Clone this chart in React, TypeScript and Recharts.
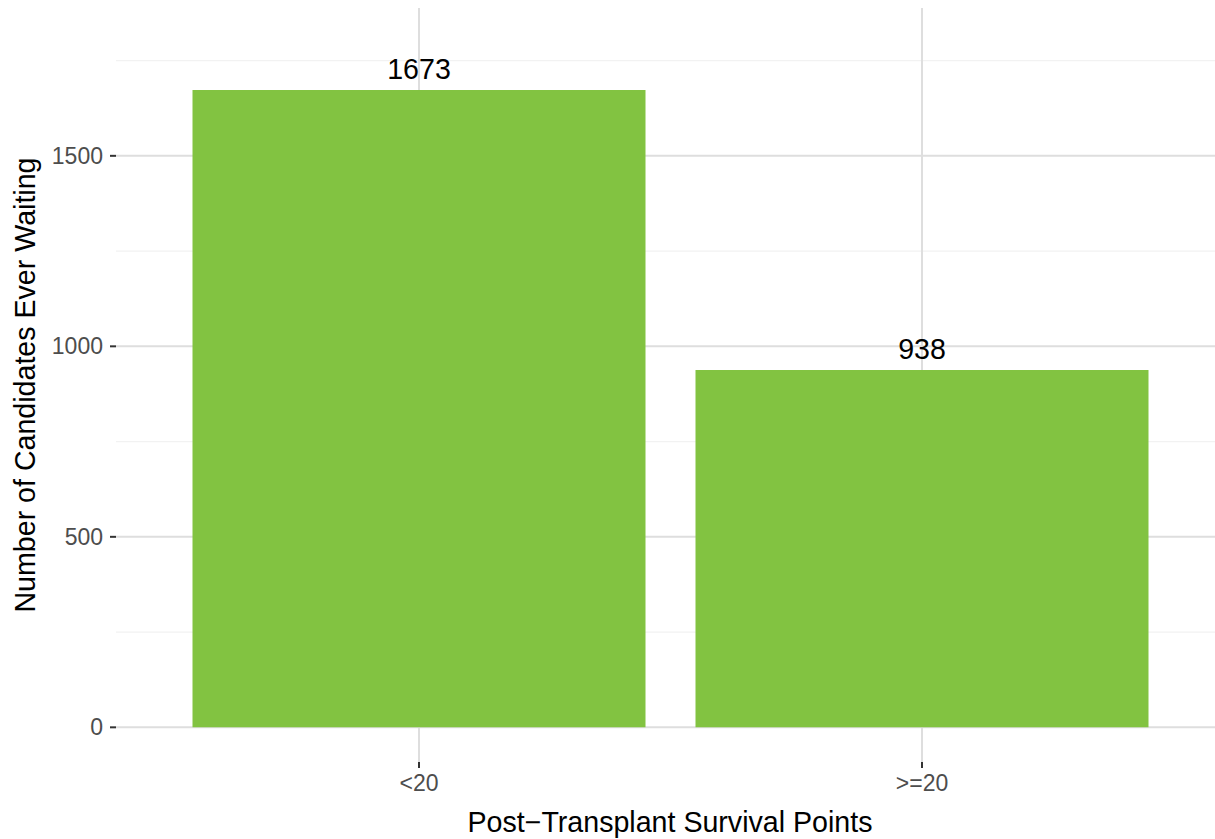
import React from 'react';
import { BarChart, Bar, XAxis, YAxis, CartesianGrid, LabelList, Label } from 'recharts';

const categories = ['<20', '>=20'];
const counts = [1673, 938];
const yTicks = [0, 500, 1000, 1500];
const minorTicks = [250, 750, 1250, 1750];

const data = categories.map((group, i) => ({ group, count: counts[i] }));

const FONT = '"Liberation Sans", Arial, Helvetica, sans-serif';

function XTitle(props: any) {
  const { viewBox } = props;
  const cx = viewBox.x + viewBox.width / 2 + 4.5;
  return (
    <text x={cx} y={viewBox.y + 70} textAnchor="middle" fontSize={28.6} fill="#000" fontFamily={FONT}>
      Post−Transplant Survival Points
    </text>
  );
}

function YTitle(props: any) {
  const { viewBox } = props;
  const cx = 35;
  const cy = viewBox.y + viewBox.height / 2;
  return (
    <text x={cx} y={cy} textAnchor="middle" fontSize={28.6} fill="#000" fontFamily={FONT}
      transform={`rotate(-90, ${cx}, ${cy})`}>
      Number of Candidates Ever Waiting
    </text>
  );
}

export default function App() {
  return (
    <div style={{ fontFamily: FONT }}>
      <style>{`body{margin:0}`}</style>
      <BarChart width={1215} height={839} data={data} margin={{ top: 8, right: 0, bottom: 0, left: 0 }}>
        <CartesianGrid horizontalValues={minorTicks} vertical={false} syncWithTicks stroke="#F2F2F2" strokeWidth={1.2} />
        <CartesianGrid syncWithTicks stroke="#DEDEDE" strokeWidth={2} />
        <XAxis
          dataKey="group"
          height={77}
          padding={{ left: 51.5, right: 41.5 }}
          axisLine={false}
          stroke="#333333"
          tickSize={6}
          tickMargin={7}
          tickLine={{ stroke: '#333333', strokeWidth: 2 }}
          tick={{ fill: '#4D4D4D', fontSize: 23, fontFamily: FONT }}
        >
          <Label content={<XTitle />} />
        </XAxis>
        <YAxis
          width={116}
          domain={[-91, 1888]}
          ticks={yTicks}
          allowDataOverflow
          axisLine={false}
          stroke="#333333"
          tickSize={6}
          tickMargin={7}
          tickLine={{ stroke: '#333333', strokeWidth: 2 }}
          tick={{ fill: '#4D4D4D', fontSize: 23, fontFamily: FONT }}
        >
          <Label content={<YTitle />} />
        </YAxis>
        <Bar dataKey="count" fill="#82C341" barSize={453} isAnimationActive={false}>
          <LabelList dataKey="count" position="top" offset={11} fill="#000" fontSize={28.6} fontFamily={FONT} />
        </Bar>
      </BarChart>
    </div>
  );
}
